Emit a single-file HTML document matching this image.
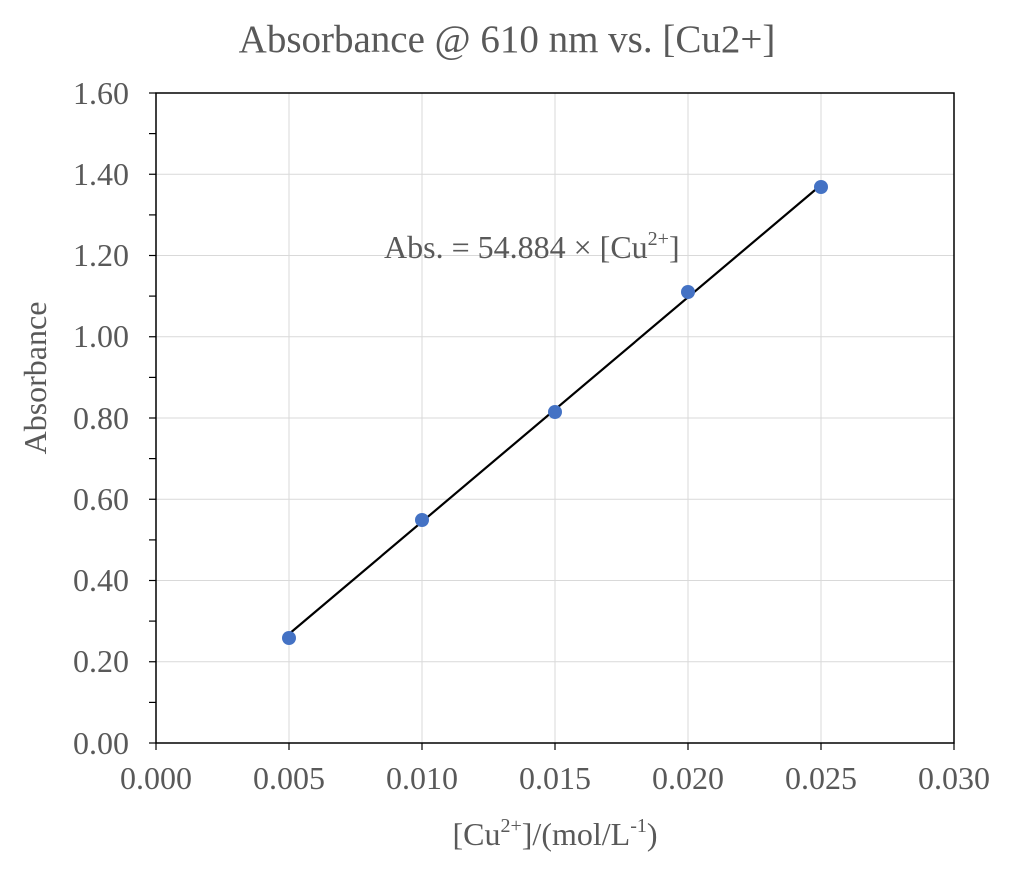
<!DOCTYPE html>
<html><head><meta charset="utf-8"><style>body{margin:0;background:#fff}svg{display:block}</style></head><body>
<svg width="1014" height="869" xmlns="http://www.w3.org/2000/svg" font-family="Liberation Serif, serif" fill="#595959">
<rect width="1014" height="869" fill="#fff"/>
<g stroke="#d9d9d9" stroke-width="1">
<line x1="289" y1="93" x2="289" y2="743"/><line x1="422" y1="93" x2="422" y2="743"/><line x1="555" y1="93" x2="555" y2="743"/><line x1="688" y1="93" x2="688" y2="743"/><line x1="821" y1="93" x2="821" y2="743"/>
<line x1="156" y1="174.25" x2="954" y2="174.25"/><line x1="156" y1="255.5" x2="954" y2="255.5"/><line x1="156" y1="336.75" x2="954" y2="336.75"/><line x1="156" y1="418" x2="954" y2="418"/><line x1="156" y1="499.25" x2="954" y2="499.25"/><line x1="156" y1="580.5" x2="954" y2="580.5"/><line x1="156" y1="661.75" x2="954" y2="661.75"/>
</g>
<rect x="156" y="93" width="798" height="650" fill="none" stroke="#000" stroke-width="1.5"/>
<g stroke="#000" stroke-width="1.2">
<line x1="156" y1="743" x2="156" y2="750"/><line x1="289" y1="743" x2="289" y2="750"/><line x1="422" y1="743" x2="422" y2="750"/><line x1="555" y1="743" x2="555" y2="750"/><line x1="688" y1="743" x2="688" y2="750"/><line x1="821" y1="743" x2="821" y2="750"/><line x1="954" y1="743" x2="954" y2="750"/>
<line x1="149" y1="93" x2="156" y2="93"/><line x1="149" y1="133.6" x2="156" y2="133.6"/><line x1="149" y1="174.25" x2="156" y2="174.25"/><line x1="149" y1="214.9" x2="156" y2="214.9"/><line x1="149" y1="255.5" x2="156" y2="255.5"/><line x1="149" y1="296.1" x2="156" y2="296.1"/><line x1="149" y1="336.75" x2="156" y2="336.75"/><line x1="149" y1="377.4" x2="156" y2="377.4"/><line x1="149" y1="418" x2="156" y2="418"/><line x1="149" y1="458.6" x2="156" y2="458.6"/><line x1="149" y1="499.25" x2="156" y2="499.25"/><line x1="149" y1="539.9" x2="156" y2="539.9"/><line x1="149" y1="580.5" x2="156" y2="580.5"/><line x1="149" y1="621.1" x2="156" y2="621.1"/><line x1="149" y1="661.75" x2="156" y2="661.75"/><line x1="149" y1="702.4" x2="156" y2="702.4"/><line x1="149" y1="743" x2="156" y2="743"/>
</g>
<g font-size="32" text-anchor="end">
<text x="129" y="104">1.60</text><text x="129" y="185">1.40</text><text x="129" y="266">1.20</text><text x="129" y="347">1.00</text><text x="129" y="429">0.80</text><text x="129" y="510">0.60</text><text x="129" y="591">0.40</text><text x="129" y="672">0.20</text><text x="129" y="754">0.00</text>
</g>
<g font-size="32" text-anchor="middle">
<text x="156" y="789">0.000</text><text x="289" y="789">0.005</text><text x="422" y="789">0.010</text><text x="555" y="789">0.015</text><text x="688" y="789">0.020</text><text x="821" y="789">0.025</text><text x="954" y="789">0.030</text>
</g>
<text x="507" y="52" font-size="39" text-anchor="middle">Absorbance @ 610 nm vs. [Cu2+]</text>
<text transform="translate(46,378) rotate(-90)" font-size="32" text-anchor="middle">Absorbance</text>
<text x="555" y="845" font-size="32" text-anchor="middle">[Cu<tspan font-size="20" dy="-13">2+</tspan><tspan dy="13">]/(mol/L</tspan><tspan font-size="20" dy="-13">-1</tspan><tspan dy="13">)</tspan></text>
<text x="384" y="258" font-size="32">Abs. = 54.884 × [Cu<tspan font-size="20" dy="-13">2+</tspan><tspan dy="13">]</tspan></text>
<line x1="289" y1="634" x2="821" y2="185" stroke="#000" stroke-width="2.2"/>
<g fill="#4472c4">
<circle cx="289" cy="638" r="7"/><circle cx="422" cy="520" r="7"/><circle cx="555" cy="412" r="7"/><circle cx="688" cy="292" r="7"/><circle cx="821" cy="187" r="7"/>
</g>
</svg>
</body></html>
